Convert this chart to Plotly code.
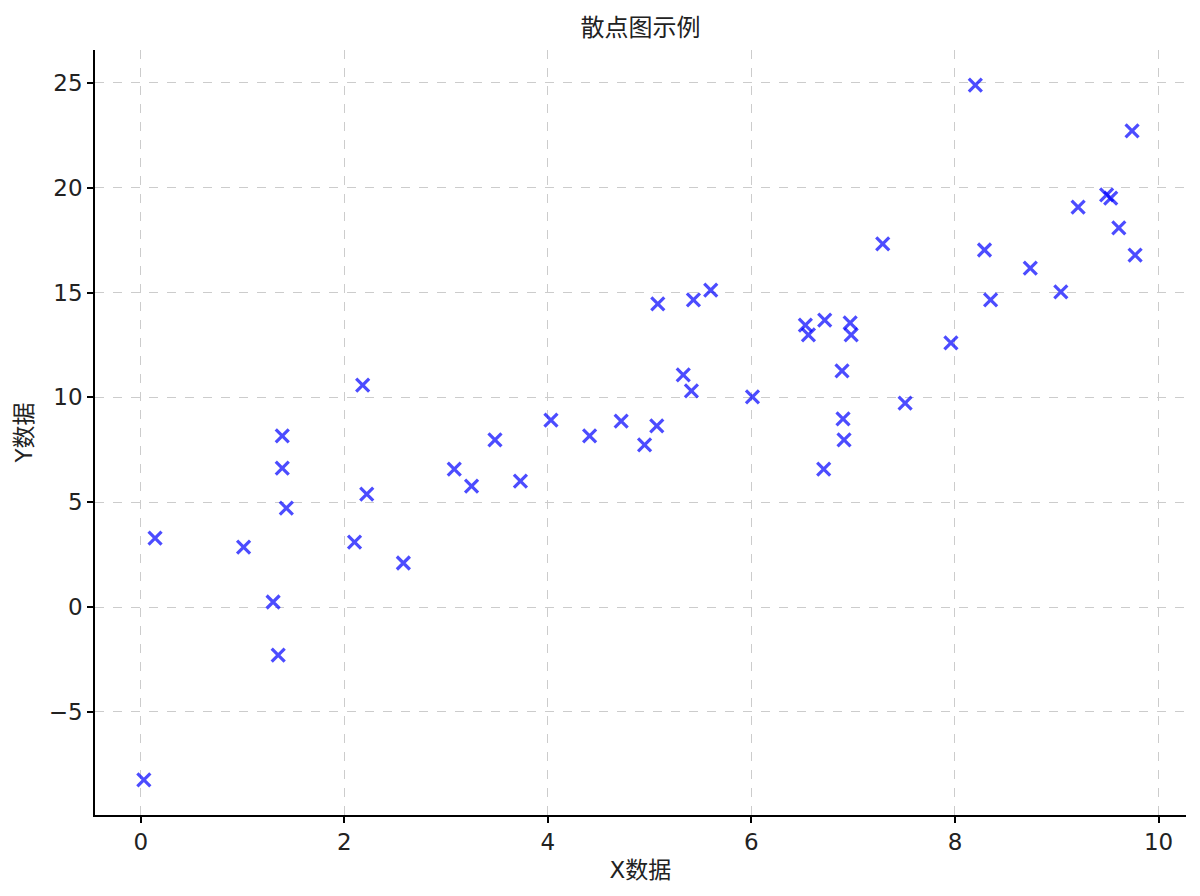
import plotly.graph_objects as go

x_vals = [0.03, 0.14, 1.01, 1.30, 1.35, 1.39, 1.39, 1.43, 2.10, 2.18, 2.22, 2.58,
          3.08, 3.25, 3.48, 3.73, 4.03, 4.41, 4.72, 4.95, 5.07, 5.08, 5.33, 5.41,
          5.43, 5.60, 6.01, 6.53, 6.56, 6.72, 6.71, 6.89, 6.90, 6.91, 6.97, 6.98,
          7.29, 7.51, 7.96, 8.20, 8.29, 8.35, 8.74, 9.04, 9.21, 9.49, 9.53, 9.61,
          9.74, 9.77]
y_vals = [-8.25, 3.29, 2.86, 0.24, -2.29, 8.16, 6.63, 4.72, 3.10, 10.59, 5.39, 2.10,
          6.58, 5.77, 7.97, 6.01, 8.92, 8.16, 8.87, 7.73, 8.64, 14.46, 11.07, 10.31,
          14.65, 15.12, 10.02, 13.45, 12.98, 13.69, 6.58, 11.26, 8.97, 7.97, 13.55, 12.98,
          17.32, 9.73, 12.60, 24.90, 17.03, 14.65, 16.17, 15.03, 19.08, 19.66, 19.51, 18.08,
          22.71, 16.79]

x_ticks = [0, 2, 4, 6, 8, 10]
y_ticks = [-5, 0, 5, 10, 15, 20, 25]

title_text = "散点图示例"
x_label = "X数据"
y_label = "Y数据"

FONT = "DejaVu Sans, Noto Sans CJK SC, sans-serif"

fig = go.Figure()
fig.add_trace(go.Scatter(
    x=x_vals, y=y_vals, mode="markers",
    marker=dict(symbol="x-thin", size=13, color="rgba(0,0,255,0.7)",
                line=dict(width=3.2, color="rgba(0,0,255,0.7)")),
    showlegend=False,
))

axis_common = dict(
    showgrid=True, gridcolor="#cccccc", gridwidth=1, griddash="dash",
    zeroline=False, showline=True, linecolor="black", linewidth=1.5,
    ticks="outside", ticklen=6, tickwidth=1.5, tickcolor="black",
    tickfont=dict(family=FONT, size=23, color="#222222"),
    mirror=False,
)

fig.update_layout(
    width=1200, height=896,
    paper_bgcolor="white", plot_bgcolor="white",
    margin=dict(l=87, r=22, t=42, b=89),
    title=dict(text=title_text, x=0.5, xref="paper", y=1 - 20 / 896, yanchor="middle",
               font=dict(family=FONT, size=24, color="#222222")),
    xaxis=dict(range=[-0.45, 10.27], tickvals=x_ticks,
               title=dict(text=x_label, font=dict(family=FONT, size=23, color="#222222"), standoff=8),
               **axis_common),
    yaxis=dict(range=[-9.92, 26.57], tickvals=y_ticks,
               ticktext=[("\u2212" + str(abs(v))) if v < 0 else str(v) for v in y_ticks],
               title=dict(text=y_label, font=dict(family=FONT, size=23, color="#222222"), standoff=10),
               **axis_common),
)

fig.write_html("out.html")
